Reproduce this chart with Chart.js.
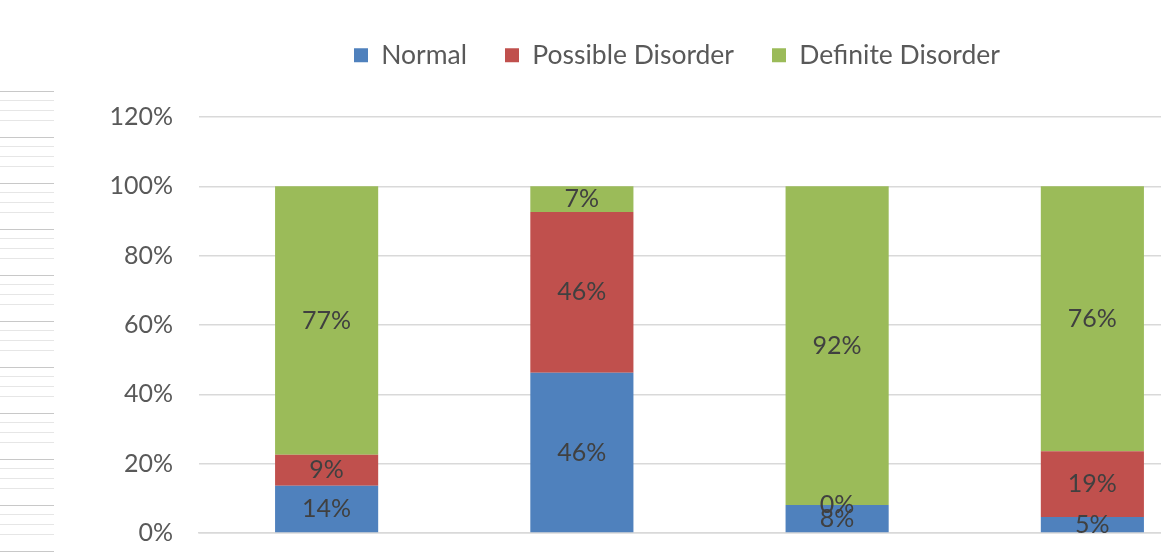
<!DOCTYPE html>
<html lang="en">
<head>
    <meta charset="UTF-8">
    <title>Disorder Distribution</title>
    <style>
        body { margin: 0; overflow: hidden; background: #fff; }
        .wrap { position: relative; width: 1161px; height: 555px; overflow: hidden; }
        .side-lines {
            position: absolute; left: 0; top: 91px; width: 54px; height: 462px;
            background: repeating-linear-gradient(to bottom, #c8c8c8 0 1px, transparent 1px 9px, #e6e6e6 9px 10px, transparent 10px 19px, #e6e6e6 19px 20px, transparent 20px 29px, #e6e6e6 29px 30px, transparent 30px 46px);
        }
        canvas { position: absolute; left: 0; top: 0; }
    </style>
</head>
<body>
    <div class="wrap">
        <div class="side-lines"></div>
        <canvas id="chart" width="1354" height="555"></canvas>
    </div>

    <script src="https://cdn.jsdelivr.net/npm/chart.js"></script>
    <script>
        const categories = ["Group 1", "Group 2", "Group 3", "Group 4"];
        const normal = [13.6, 46.2, 8.1, 4.6];
        const possibleDisorder = [9.0, 46.4, 0, 19.0];
        const definiteDisorder = [77.4, 7.4, 91.9, 76.4];
        const yTicks = [0, 20, 40, 60, 80, 100, 120];

        const FONT = "Lato, 'Open Sans', sans-serif";

        // draws the percentage in the middle of every bar segment
        const segmentLabels = {
            id: 'segmentLabels',
            afterDatasetsDraw(chart) {
                const ctx = chart.ctx;
                ctx.save();
                ctx.font = "25px " + FONT;
                ctx.fillStyle = "#404040";
                ctx.textAlign = "center";
                ctx.textBaseline = "middle";
                chart.data.datasets.forEach((ds, i) => {
                    chart.getDatasetMeta(i).data.forEach((bar, j) => {
                        const y = (bar.y + bar.base) / 2;
                        ctx.fillText(Math.round(ds.data[j]) + "%", bar.x, y);
                    });
                });
                ctx.restore();
            }
        };

        // legend sits higher above the plot and is centred on the whole canvas
        const legendLayout = {
            id: 'legendLayout',
            beforeInit(chart) {
                const fit = chart.legend.fit;
                chart.legend.fit = function () {
                    fit.call(this);
                    this.height = 113;
                };
            },
            afterLayout(chart) {
                chart.legend.right = chart.width;
                chart.legend.width = chart.legend.right - chart.legend.left;
            }
        };

        new Chart(document.getElementById('chart'), {
            type: 'bar',
            data: {
                labels: categories,
                datasets: [
                    { label: "Normal", data: normal, backgroundColor: "#4F81BD" },
                    { label: "Possible Disorder", data: possibleDisorder, backgroundColor: "#C0504D" },
                    { label: "Definite Disorder", data: definiteDisorder, backgroundColor: "#9BBB59" }
                ]
            },
            options: {
                responsive: false,
                animation: false,
                categoryPercentage: 1,
                barPercentage: 0.404,
                layout: { padding: { left: 0, right: 134, top: 4, bottom: 22 } },
                plugins: {
                    tooltip: { enabled: false },
                    legend: {
                        position: 'top',
                        labels: {
                            boxWidth: 14,
                            boxHeight: 14,
                            padding: 38,
                            color: "#595959",
                            font: { family: FONT, size: 26.5 }
                        }
                    }
                },
                scales: {
                    x: {
                        stacked: true,
                        afterFit(scale) { scale.height = 0; },
                        ticks: { display: false },
                        grid: { display: false },
                        border: { display: true, color: "#d9d9d9", width: 1.5 }
                    },
                    y: {
                        stacked: true,
                        min: 0,
                        max: 120,
                        afterBuildTicks(scale) {
                            scale.ticks = yTicks.map(v => ({ value: v }));
                        },
                        afterFit(scale) {
                            scale.width = 199;
                            scale.paddingTop = 0;
                            scale.paddingBottom = 0;
                        },
                        ticks: {
                            padding: 26,
                            color: "#595959",
                            font: { family: FONT, size: 25 },
                            callback: v => v + "%"
                        },
                        grid: { color: "#d9d9d9", lineWidth: 1.5, drawTicks: false },
                        border: { display: false }
                    }
                }
            },
            plugins: [segmentLabels, legendLayout]
        });
    </script>
</body>
</html>
